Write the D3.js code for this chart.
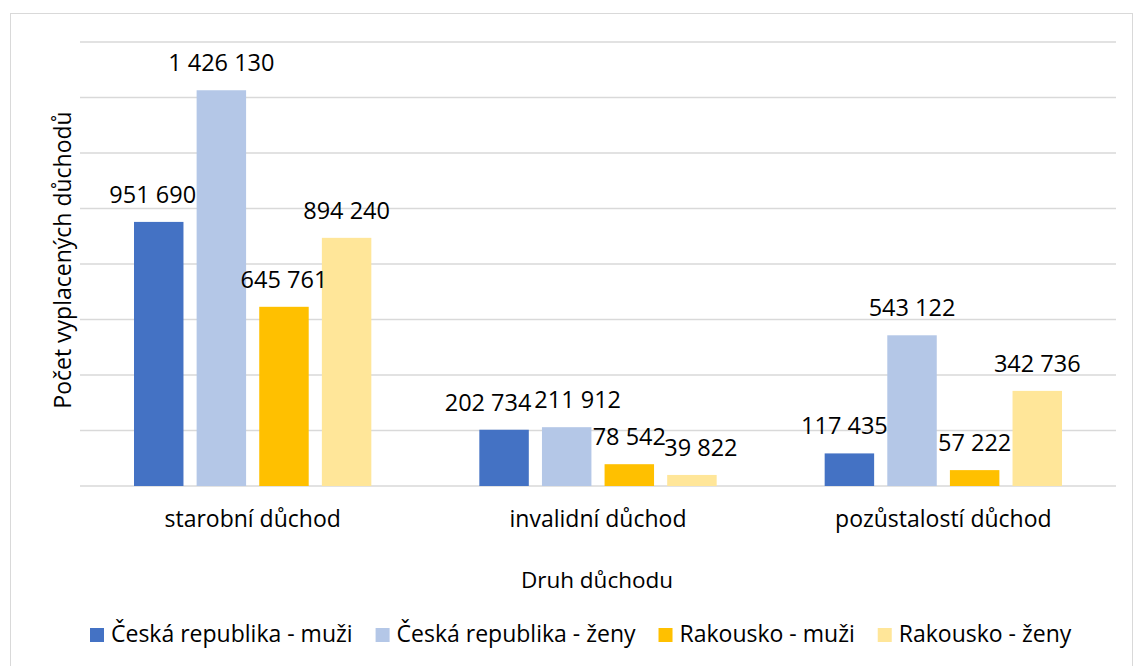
<!DOCTYPE html>
<html>
<head>
<meta charset="utf-8">
<script src="https://cdn.jsdelivr.net/npm/d3@7"></script>
<style>
  body { margin: 0; background: #fff; }
  text { font-family: "Open Sans", "Noto Sans", sans-serif; fill: #000; }
</style>
</head>
<body>
<div id="chart"></div>
<script>
// data
var categories = ["starobní důchod", "invalidní důchod", "pozůstalostí důchod"];
var seriesNames = ["Česká republika - muži", "Česká republika - ženy", "Rakousko - muži", "Rakousko - ženy"];
var czMen = [951690, 202734, 117435];
var czWomen = [1426130, 211912, 543122];
var atMen = [645761, 78542, 57222];
var atWomen = [894240, 39822, 342736];
var yTicks = [0, 200000, 400000, 600000, 800000, 1000000, 1200000, 1400000, 1600000];

var colors = ["#4472C4", "#B4C7E7", "#FFC000", "#FFE699"];
// label nudges (px) so overlapping labels move apart like in the original
var labelNudge = [[-6, 0, 0, 0], [-16, 11, 0, 9], [-5, 0, 0, 0]];

var W = 1133, H = 666;
var margin = {top: 42, left: 80, right: 17, bottom: 180};
var fmt = function(v) { return d3.format(",")(v).replace(/,/g, " "); };

var svg = d3.select("#chart").append("svg").attr("width", W).attr("height", H);

svg.append("rect")
  .attr("x", 10.5).attr("y", 13.5)
  .attr("width", 1122).attr("height", 680)
  .attr("fill", "#fff").attr("stroke", "#d9d9d9").attr("stroke-width", 1);

var x0 = d3.scaleBand().domain(categories).range([margin.left, W - margin.right]).paddingInner(0).paddingOuter(0);
var x1 = d3.scaleBand().domain(d3.range(4)).range([54, x0.bandwidth() - 54]).paddingInner(0.21).paddingOuter(0);
var y = d3.scaleLinear().domain([0, 1600000]).range([486, margin.top]);

// gridlines
svg.append("g").selectAll("line").data(yTicks).enter().append("line")
  .attr("x1", margin.left).attr("x2", W - margin.right)
  .attr("y1", function(d) { return y(d); }).attr("y2", function(d) { return y(d); })
  .attr("stroke", "#d9d9d9").attr("stroke-width", 1.5);

var series = [czMen, czWomen, atMen, atWomen];
var groups = svg.append("g").selectAll("g").data(categories).enter().append("g")
  .attr("transform", function(d) { return "translate(" + x0(d) + ",0)"; });

groups.each(function(cat, ci) {
  var g = d3.select(this);
  var vals = series.map(function(s, si) { return {v: s[ci], si: si}; });
  g.selectAll("rect").data(vals).enter().append("rect")
    .attr("x", function(d) { return x1(d.si); })
    .attr("y", function(d) { return y(d.v); })
    .attr("width", x1.bandwidth())
    .attr("height", function(d) { return y(0) - y(d.v); })
    .attr("fill", function(d) { return colors[d.si]; });
  g.selectAll("text.val").data(vals).enter().append("text")
    .attr("class", "val")
    .attr("x", function(d) { return x1(d.si) + x1.bandwidth() / 2 + labelNudge[ci][d.si]; })
    .attr("y", function(d) { return y(d.v) - 19; })
    .attr("text-anchor", "middle")
    .style("font-size", "23.5px")
    .text(function(d) { return fmt(d.v); });
});

// category labels
svg.append("g").selectAll("text").data(categories).enter().append("text")
  .attr("x", function(d) { return x0(d) + x0.bandwidth() / 2; })
  .attr("y", 527)
  .attr("text-anchor", "middle")
  .style("font-size", "23px")
  .text(function(d) { return d; });

// axis titles
svg.append("text")
  .attr("transform", "translate(71,260) rotate(-90)")
  .attr("text-anchor", "middle")
  .style("font-size", "23px")
  .text("Počet vyplacených důchodů");

svg.append("text")
  .attr("x", 597).attr("y", 588)
  .attr("text-anchor", "middle")
  .style("font-size", "22.5px")
  .text("Druh důchodu");

// legend
var leg = svg.append("g");
var items = leg.selectAll("g").data(seriesNames).enter().append("g");
items.append("rect").attr("width", 14).attr("height", 14).attr("y", -14)
  .attr("fill", function(d, i) { return colors[i]; });
items.append("text").attr("x", 21).attr("y", 0)
  .style("font-size", "23px")
  .text(function(d) { return d; });
var xPos = 0;
items.each(function() {
  var w = d3.select(this).select("text").node().getComputedTextLength() + 21;
  d3.select(this).attr("transform", "translate(" + xPos + ",0)");
  xPos += w + 23;
});
leg.attr("transform", "translate(90,642)");
</script>
</body>
</html>
